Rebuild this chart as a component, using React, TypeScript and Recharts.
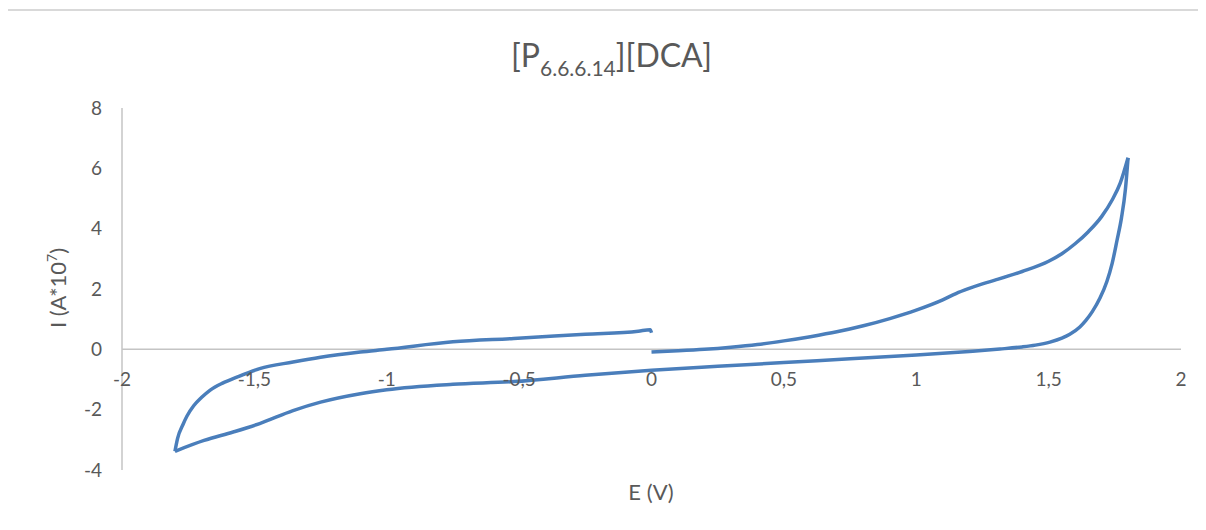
import { LineChart, Line, XAxis, YAxis, ReferenceLine, ReferenceDot } from 'recharts';

// forward sweep 0 -> 1.8 V
const forwardE = [0, 0.1, 0.2, 0.3, 0.4, 0.5, 0.6, 0.7, 0.8, 0.9, 1.0, 1.1, 1.15, 1.2, 1.25, 1.3, 1.4, 1.5, 1.55, 1.6, 1.65, 1.7, 1.74, 1.77, 1.8];
const forwardI = [-0.09, -0.05, 0.0, 0.07, 0.16, 0.28, 0.42, 0.58, 0.78, 1.02, 1.3, 1.64, 1.85, 2.02, 2.17, 2.3, 2.58, 2.92, 3.17, 3.5, 3.9, 4.4, 4.95, 5.5, 6.35];

// reverse sweep 1.8 -> -1.8 V
const reverseE = [1.8, 1.79, 1.775, 1.758, 1.74, 1.72, 1.694, 1.665, 1.64, 1.618, 1.58, 1.55, 1.505, 1.45, 1.4, 1.316, 1.2, 1.0, 0.75, 0.5, 0.25, 0, -0.25, -0.52, -0.75, -1.0, -1.1, -1.25, -1.354, -1.48, -1.58, -1.69, -1.8];
const reverseI = [6.35, 5.3, 4.35, 3.6, 2.85, 2.25, 1.7, 1.25, 0.95, 0.74, 0.5, 0.37, 0.24, 0.14, 0.08, 0.01, -0.07, -0.19, -0.31, -0.44, -0.56, -0.69, -0.86, -1.07, -1.16, -1.34, -1.47, -1.75, -2.03, -2.46, -2.74, -3.02, -3.38];

// return sweep -1.8 -> 0 V
const returnE = [-1.8, -1.79, -1.77, -1.755, -1.73, -1.7, -1.668, -1.62, -1.566, -1.48, -1.354, -1.25, -1.1, -1.0, -0.75, -0.52, -0.25, -0.05, -0.005, 0];
const returnI = [-3.38, -2.95, -2.5, -2.22, -1.88, -1.6, -1.36, -1.12, -0.92, -0.64, -0.42, -0.26, -0.09, 0.0, 0.25, 0.36, 0.5, 0.6, 0.65, 0.55];

const xTicks = [-2, -1.5, -1, -0.5, 0, 0.5, 1, 1.5, 2];
const yTicks = [-4, -2, 0, 2, 4, 6, 8];

const zip = (es: number[], is: number[]) => es.map((e, k) => ({ e, i: is[k] }));
const segments = [zip(forwardE, forwardI), zip(reverseE, reverseI), zip(returnE, returnI)];

const fmt = (v: number) => String(v).replace('.', ',');

const FONT = 'Lato, "Open Sans", sans-serif';
const TEXT = '#595959';
const AXIS = '#c4c4c4';
const BLUE = '#4a7ebb';

export default function App() {
  return (
    <div style={{ position: 'relative', width: 1190, height: 514, fontFamily: FONT }}>
      <div
        style={{
          position: 'absolute',
          left: -2,
          top: 1,
          width: 1198,
          height: 513,
          borderTop: '2px solid #d9d9d9',
          borderLeft: '2px solid #d9d9d9',
          boxSizing: 'border-box',
        }}
      />
      <LineChart width={1190} height={514} margin={{ top: 100, right: 17, bottom: 52, left: 54 }}>
        <XAxis type="number" dataKey="e" domain={[-2, 2]} ticks={xTicks} hide allowDataOverflow />
        <YAxis
          type="number"
          domain={[-4, 8]}
          ticks={yTicks}
          width={60}
          tickLine={false}
          tickMargin={14}
          axisLine={{ stroke: AXIS, strokeWidth: 1.5 }}
          tick={{ fill: TEXT, fontSize: 19, fontFamily: FONT }}
          tickFormatter={fmt}
        />
        <ReferenceLine y={0} stroke={AXIS} strokeWidth={1.5} />
        {xTicks.map((t) => (
          <ReferenceDot
            key={t}
            x={t}
            y={0}
            r={1}
            shape={(p: any) => (
              <text x={p.cx} y={p.cy + 37} textAnchor="middle" fill={TEXT} fontSize={19} fontFamily={FONT}>
                {fmt(t)}
              </text>
            )}
          />
        ))}
        {segments.map((seg, k) => (
          <Line
            key={k}
            data={seg}
            dataKey="i"
            type="monotoneX"
            stroke={BLUE}
            strokeWidth={3.5}
            dot={false}
            activeDot={false}
            isAnimationActive={false}
          />
        ))}
      </LineChart>
      <svg
        width={1190}
        height={514}
        style={{ position: 'absolute', left: 0, top: 0, pointerEvents: 'none' }}
        fontFamily={FONT}
        fill={TEXT}
      >
        <text x={603.5} y={59} textAnchor="middle" fontSize={32}>
          [P
          <tspan fontSize={21} dy={9}>6.6.6.14</tspan>
          <tspan dy={-9}>][DCA]</tspan>
        </text>
        <text x={58} y={280} textAnchor="middle" fontSize={22} transform="rotate(-90 58 280)">
          I (A*10
          <tspan fontSize={14} dy={-9}>7</tspan>
          <tspan dy={9}>)</tspan>
        </text>
        <text x={643} y={492} textAnchor="middle" fontSize={22}>
          E (V)
        </text>
      </svg>
    </div>
  );
}
